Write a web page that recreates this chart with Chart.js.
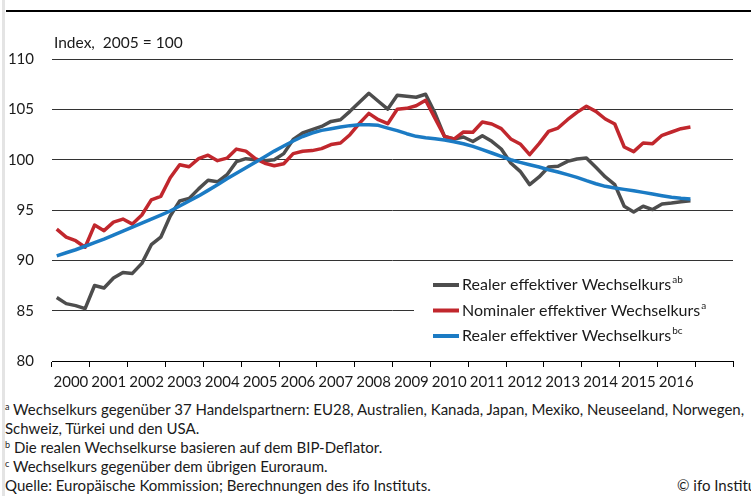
<!DOCTYPE html>
<html>
<head>
<meta charset="utf-8">
<script src="https://cdn.jsdelivr.net/npm/chart.js@4"></script>
<style>
  body { margin: 0; background: #fff; width: 751px; height: 496px; overflow: hidden; position: relative; font-family: Lato, sans-serif; color: #1a1a1a; }
  #frame { position: absolute; left: 2px; top: 0; width: 3px; height: 496px; background: #e4e4e4; }
  #topline { position: absolute; left: 6px; right: 0; top: 10px; height: 2px; background: #000; }
  #wrap { position: absolute; left: 0; top: 0; width: 751px; height: 400px; }
  .notes { position: absolute; left: 5px; top: 400px; font-size: 15px; line-height: 19px; white-space: nowrap; }
  .notes sup { font-size: 9px; vertical-align: 5px; line-height: 0; }
  .copy { position: absolute; left: 672px; }
</style>
</head>
<body>
<div id="frame"></div>
<div id="topline"></div>
<div id="wrap"><canvas id="chart" width="751" height="400"></canvas></div>
<div class="notes">
  <div><sup>a</sup> Wechselkurs gegenüber 37 Handelspartnern: EU28, Australien, Kanada, Japan, Mexiko, Neuseeland, Norwegen,</div>
  <div>Schweiz, Türkei und den USA.</div>
  <div><sup>b</sup> Die realen Wechselkurse basieren auf dem BIP-Deflator.</div>
  <div><sup>c</sup> Wechselkurs gegenüber dem übrigen Euroraum.</div>
  <div>Quelle: Europäische Kommission; Berechnungen des ifo Instituts.<span class="copy">© ifo Institut</span></div>
</div>
<script>
// year labels (last band 2017 has no label)
const years = ["2000", "2001", "2002", "2003", "2004", "2005", "2006", "2007", "2008",
  "2009", "2010", "2011", "2012", "2013", "2014", "2015", "2016", ""];

// quarterly values, 2000 Q1 - 2016 Q4
const realAB = [
  86.3, 85.7, 85.5, 85.2, 87.5, 87.25, 88.25, 88.8, 88.7, 89.7, 91.55, 92.3,
  94.4, 95.9, 96.15, 97.1, 97.95, 97.8, 98.5, 99.8, 100.1, 100.0, 99.9, 100.0,
  100.6, 102.0, 102.65, 102.98, 103.3, 103.8, 103.97, 104.8, 105.7, 106.6, 105.8, 105.03,
  106.4, 106.3, 106.2, 106.5, 104.6, 102.3, 102.05, 102.25, 101.8, 102.38, 101.82, 101.06,
  99.67, 98.84, 97.52, 98.28, 99.27, 99.34, 99.83, 100.07, 100.16, 99.24, 98.28, 97.52,
  95.37, 94.8, 95.37, 95.04, 95.6, 95.7, 95.83, 95.93
];
const nominalA = [
  93.1, 92.3, 91.95, 91.3, 93.5, 92.95, 93.8, 94.1, 93.6, 94.5, 96.0, 96.35,
  98.2, 99.5, 99.3, 100.1, 100.45, 99.9, 100.15, 101.05, 100.85, 100.1, 99.65, 99.4,
  99.6, 100.6, 100.83, 100.9, 101.1, 101.5, 101.65, 102.48, 103.6, 104.6, 103.97, 103.57,
  105.0, 105.1, 105.36, 105.9, 104.1, 102.3, 102.05, 102.75, 102.73, 103.74, 103.54, 103.08,
  102.06, 101.56, 100.5, 101.59, 102.81, 103.14, 103.97, 104.7, 105.3, 104.8, 104.04, 103.54,
  101.26, 100.8, 101.66, 101.59, 102.42, 102.75, 103.08, 103.24
];
const realBC = [
  90.45, 90.75, 91.05, 91.4, 91.75, 92.1, 92.5, 92.9, 93.3, 93.7, 94.1, 94.5,
  94.9, 95.4, 95.9, 96.4, 96.95, 97.5, 98.1, 98.65, 99.2, 99.75, 100.3, 100.85,
  101.35, 101.85, 102.3, 102.65, 102.91, 103.08, 103.24, 103.38, 103.47, 103.47, 103.41, 103.14,
  102.88, 102.58, 102.32, 102.18, 102.08, 101.95, 101.78, 101.58, 101.32, 100.99, 100.66, 100.33,
  99.99, 99.73, 99.5, 99.27, 99.0, 98.77, 98.51, 98.24, 97.91, 97.61, 97.35, 97.18,
  97.05, 96.92, 96.75, 96.59, 96.42, 96.26, 96.16, 96.09
];

const seriesNames = ["Realer effektiver Wechselkurs", "Nominaler effektiver Wechselkurs", "Realer effektiver Wechselkurs"];
const seriesSup = ["ab", "a", "bc"];
const colors = ["#4d4d4d", "#c1272d", "#1b7bc4"];

// points sit in the middle of each quarter
function toPoints(arr) {
  return arr.map((v, i) => ({ x: i + 0.5, y: v }));
}

const legendPlugin = {
  id: "boxLegend",
  afterDraw(chart) {
    const ctx = chart.ctx;
    const area = chart.chartArea;
    ctx.save();
    ctx.fillStyle = "#fff";
    ctx.fillRect(414, 268, area.right - 414 + 1, 85);
    ctx.textBaseline = "middle";
    chart.data.datasets.forEach((ds, i) => {
      const y = 285 + i * 25.5;
      ctx.strokeStyle = ds.borderColor;
      ctx.lineWidth = 4;
      ctx.beginPath();
      ctx.moveTo(433, y);
      ctx.lineTo(459, y);
      ctx.stroke();
      ctx.fillStyle = "#1a1a1a";
      ctx.font = "16px Lato";
      ctx.fillText(ds.label, 462, y);
      const w = ctx.measureText(ds.label).width;
      ctx.font = "10px Lato";
      ctx.fillText(seriesSup[i], 462 + w + 1, y - 5);
    });
    // unit label
    ctx.font = "15.5px Lato";
    ctx.fillText("Index,  2005 = 100", area.left + 2, 43);
    ctx.restore();
  }
};

new Chart(document.getElementById("chart"), {
  type: "line",
  data: {
    labels: years,
    datasets: seriesNames.map((name, i) => ({
      label: name,
      data: toPoints([realAB, nominalA, realBC][i]),
      xAxisID: "xq",
      borderColor: colors[i],
      borderWidth: 3.5,
      pointRadius: 0,
      tension: 0,
      borderJoinStyle: "round",
      order: 3 - i
    }))
  },
  options: {
    responsive: false,
    animation: false,
    layout: { padding: { top: 59, right: 18, bottom: 3, left: 0 } },
    plugins: { legend: { display: false }, tooltip: { enabled: false } },
    scales: {
      x: {
        type: "category",
        offset: true,
        grid: { offset: true, drawOnChartArea: false, color: "#000", tickLength: 6 },
        border: { display: true, color: "#000", width: 1 },
        ticks: { autoSkip: false, maxRotation: 0, minRotation: 0, padding: 6, color: "#1a1a1a", font: { family: "Lato", size: 15 } }
      },
      xq: { type: "linear", display: false, min: 0, max: 72 },
      y: {
        min: 80,
        max: 110,
        afterFit: (s) => { s.width = 52; },
        ticks: { stepSize: 5, padding: 18, color: "#1a1a1a", font: { family: "Lato", size: 15 } },
        grid: { color: "#333", drawTicks: false },
        border: { display: false }
      }
    }
  },
  plugins: [legendPlugin]
});
</script>
</body>
</html>
